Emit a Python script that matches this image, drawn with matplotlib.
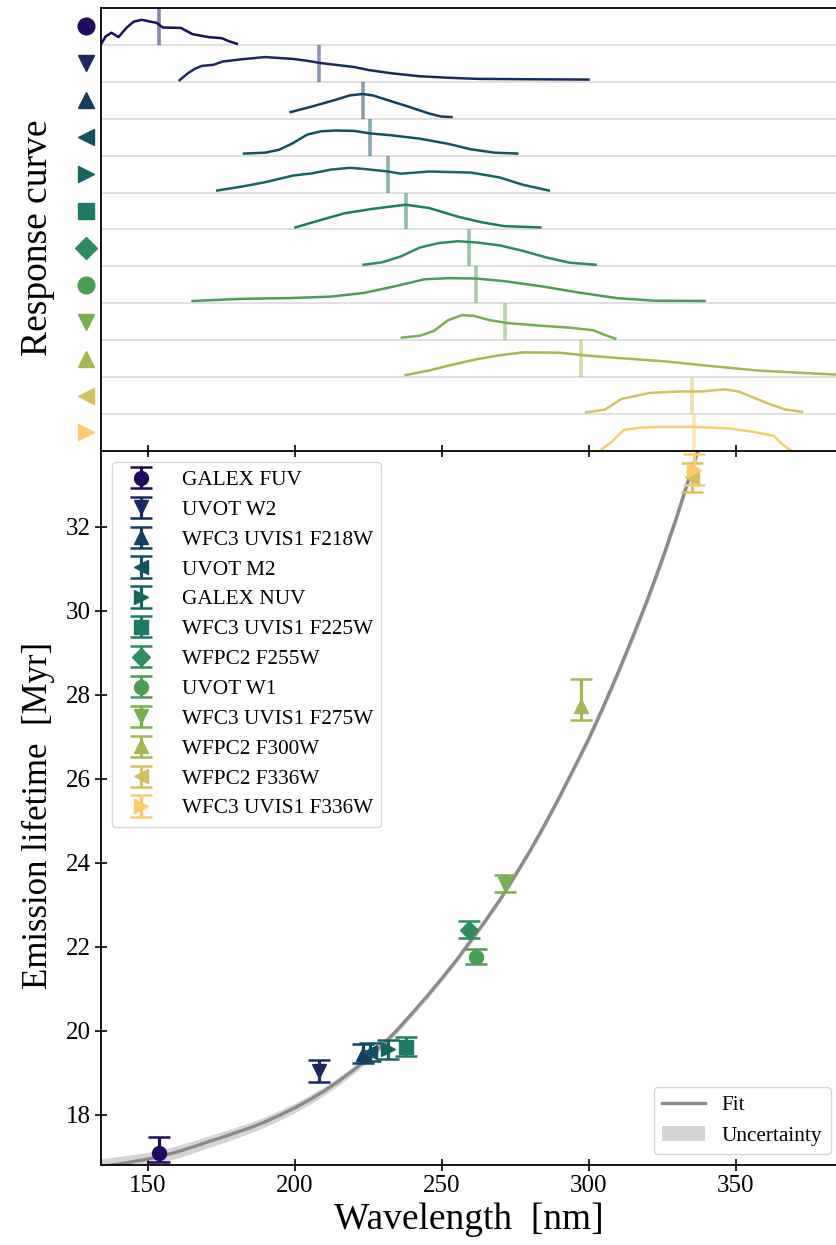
import matplotlib
matplotlib.use('Agg')
import matplotlib.pyplot as plt
from matplotlib.patches import Patch
from matplotlib.lines import Line2D

plt.rcParams['font.family'] = 'serif'
plt.rcParams['font.serif'] = ['Liberation Serif', 'DejaVu Serif']
plt.rcParams['mathtext.fontset'] = 'stix'

# filters, markers, colours
filters = ['GALEX FUV', 'UVOT W2', 'WFC3 UVIS1 F218W', 'UVOT M2', 'GALEX NUV',
           'WFC3 UVIS1 F225W', 'WFPC2 F255W', 'UVOT W1', 'WFC3 UVIS1 F275W',
           'WFPC2 F300W', 'WFPC2 F336W', 'WFC3 UVIS1 F336W']
markers = ['o', 'v', '^', '<', '>', 's', 'D', 'o', 'v', '^', '<', '>']
colors = ['#1f0a5c', '#1b2a5e', '#143e5f', '#14505f', '#166460', '#1e7a64',
          '#2f8a5e', '#4b9c55', '#78ae4e', '#a5b652', '#d4c060', '#fdcb6e']

# effective wavelength [nm] and emission lifetime [Myr]
wl_eff = [153.8, 208.3, 223.3, 225.6, 231.6, 237.9, 259.2, 261.7, 271.6, 297.3, 335.0, 335.9]
lifetime = [17.09, 19.03, 19.44, 19.48, 19.55, 19.62, 22.40, 21.76, 23.50, 27.73, 33.17, 33.35]
err_lo = [0.23, 0.25, 0.22, 0.20, 0.22, 0.22, 0.20, 0.18, 0.21, 0.34, 0.35, 0.37]
err_hi = [0.37, 0.28, 0.24, 0.22, 0.22, 0.22, 0.20, 0.18, 0.21, 0.63, 0.35, 0.37]

# response curves (wavelength [nm], height in row units)
wl_fuv = [134.1, 135.6, 137.6, 140.0, 142.8, 145.2, 147.9, 150.8, 152.9, 155.1, 161.2, 165.2, 170.7, 175.2, 177.9, 180.3]
r_fuv = [0.02, 0.225, 0.33, 0.21, 0.47, 0.63, 0.68, 0.63, 0.60, 0.47, 0.46, 0.29, 0.21, 0.18, 0.09, 0.03]
wl_w2 = [160.8, 163.6, 165.9, 168.3, 172.3, 175.5, 181.9, 189.9, 199.4, 204.2, 208.5, 213.8, 220.2, 225.0, 232.9, 242.5, 252.1, 261.7, 277.6, 299.9]
r_w2 = [0.045, 0.23, 0.35, 0.43, 0.46, 0.55, 0.61, 0.67, 0.62, 0.57, 0.51, 0.46, 0.40, 0.32, 0.23, 0.15, 0.11, 0.08, 0.07, 0.06]
wl_f218 = [198.6, 205.8, 213.8, 218.6, 223.0, 226.6, 232.9, 239.3, 245.7, 249.7, 253.3]
r_f218 = [0.18, 0.33, 0.51, 0.63, 0.67, 0.63, 0.47, 0.31, 0.14, 0.06, 0.045]
wl_m2 = [182.7, 189.9, 194.7, 199.4, 204.2, 209.0, 213.8, 220.2, 225.8, 232.9, 242.5, 252.1, 260.0, 268.0, 275.7]
r_m2 = [0.055, 0.08, 0.16, 0.34, 0.57, 0.66, 0.68, 0.67, 0.60, 0.55, 0.46, 0.32, 0.17, 0.08, 0.055]
wl_nuv = [173.6, 181.9, 189.9, 199.4, 205.8, 212.2, 218.6, 223.4, 231.7, 236.1, 245.7, 260.0, 269.6, 277.6, 286.4]
r_nuv = [0.055, 0.16, 0.28, 0.46, 0.52, 0.62, 0.67, 0.64, 0.57, 0.51, 0.57, 0.54, 0.41, 0.21, 0.055]
wl_f225 = [200.2, 209.0, 217.0, 226.6, 237.7, 245.7, 255.3, 263.2, 271.2, 283.5]
r_f225 = [0.055, 0.26, 0.44, 0.56, 0.67, 0.58, 0.35, 0.20, 0.09, 0.055]
wl_f255 = [223.4, 229.7, 236.1, 242.5, 248.9, 255.3, 261.6, 269.6, 277.6, 285.6, 293.5, 302.3]
r_f255 = [0.045, 0.11, 0.27, 0.51, 0.63, 0.68, 0.65, 0.57, 0.42, 0.24, 0.10, 0.045]
wl_w1 = [165.2, 181.9, 197.8, 212.2, 223.4, 232.9, 244.1, 252.1, 261.6, 271.2, 283.9, 296.7, 309.5, 322.2, 339.5]
r_w1 = [0.063, 0.12, 0.14, 0.18, 0.28, 0.44, 0.65, 0.68, 0.67, 0.60, 0.46, 0.29, 0.14, 0.07, 0.063]
wl_f275 = [236.4, 242.5, 247.3, 252.1, 256.9, 260.8, 266.4, 272.8, 284.0, 293.5, 301.5, 305.5, 309.0]
r_f275 = [0.07, 0.12, 0.25, 0.54, 0.68, 0.66, 0.54, 0.46, 0.39, 0.34, 0.27, 0.14, 0.045]
wl_f300 = [237.7, 245.7, 253.7, 261.6, 269.6, 277.6, 290.3, 298.3, 309.5, 325.4, 341.4, 357.3, 373.3, 384.1]
r_f300 = [0.055, 0.18, 0.34, 0.48, 0.59, 0.67, 0.66, 0.59, 0.52, 0.43, 0.30, 0.18, 0.11, 0.07]
wl_f336a = [299.1, 305.5, 311.1, 320.7, 330.2, 338.2, 346.2, 351.0, 360.5, 366.9, 372.5]
r_f336a = [0.045, 0.12, 0.41, 0.57, 0.61, 0.61, 0.67, 0.61, 0.30, 0.12, 0.06]
wl_f336b = [304.4, 307.9, 311.9, 317.5, 325.4, 335.8, 347.8, 355.7, 362.9, 366.1, 368.5]
r_f336b = [0.045, 0.25, 0.57, 0.63, 0.65, 0.65, 0.61, 0.52, 0.41, 0.16, 0.03]

resp_wl = [wl_fuv, wl_w2, wl_f218, wl_m2, wl_nuv, wl_f225, wl_f255, wl_w1, wl_f275, wl_f300, wl_f336a, wl_f336b]
resp = [r_fuv, r_w2, r_f218, r_m2, r_nuv, r_f225, r_f255, r_w1, r_f275, r_f300, r_f336a, r_f336b]

# fit curve and its uncertainty
fit_wl = [134, 135, 140, 145, 150, 155, 160, 165, 170, 175, 180, 185, 190, 195, 200, 205, 210, 215, 220,
          225, 230, 235, 240, 245, 250, 255, 260, 265, 270, 275, 280, 285, 290, 295, 300, 305, 310,
          315, 320, 325, 330, 335, 340]
fit_y = [16.76, 16.77, 16.82, 16.88, 16.94, 17.02, 17.11, 17.22, 17.34, 17.45, 17.57, 17.69, 17.83, 17.99,
         18.16, 18.35, 18.56, 18.80, 19.06, 19.35, 19.67, 20.03, 20.42, 20.82, 21.24, 21.68, 22.15, 22.63,
         23.14, 23.70, 24.28, 24.90, 25.56, 26.25, 26.95, 27.72, 28.53, 29.38, 30.27, 31.22, 32.25, 33.35, 34.45]
fit_err = [0.19, 0.19, 0.18, 0.17, 0.16, 0.155, 0.15, 0.145, 0.14, 0.135, 0.13, 0.125, 0.12, 0.12,
           0.115, 0.11, 0.105, 0.10, 0.09, 0.085, 0.08, 0.075, 0.07, 0.07, 0.065, 0.065, 0.065, 0.065,
           0.07, 0.07, 0.075, 0.08, 0.085, 0.09, 0.095, 0.10, 0.105, 0.11, 0.115, 0.12, 0.125, 0.13, 0.135]

fig = plt.figure(figsize=(8.36, 12.45), dpi=100)
ax_top = fig.add_axes([0.1208, 0.6378, 0.8792, 0.3558])
ax = fig.add_axes([0.1208, 0.0643, 0.8792, 0.5735])

xmin, xmax = 134.05, 384.1
n = len(filters)

# response curves
for i in range(n):
    base = n - 1 - i
    if i > 0:
        ax_top.axhline(base + 1, color='#dddddd', lw=1.3, zorder=1)
    ax_top.plot(resp_wl[i], [base + v for v in resp[i]], color=colors[i], lw=1.8, zorder=3)
    ax_top.vlines(wl_eff[i], base, base + 1, color=colors[i], alpha=0.5, lw=2.6, zorder=2)
    ax_top.plot(-0.02, base + 0.5, marker=markers[i], color=colors[i], ms=12 if markers[i] != 'D' else 11,
                transform=ax_top.get_yaxis_transform(), clip_on=False)
ax_top.set_xlim(xmin, xmax)
ax_top.set_ylim(0, n)
ax_top.set_xticks([])
ax_top.set_yticks([])
ax_top.spines['right'].set_visible(False)
ax_top.spines['bottom'].set_visible(False)
ax_top.spines['left'].set_linewidth(1.3)
ax_top.spines['top'].set_linewidth(1.3)
ax_top.set_ylabel('Response curve', fontsize=27)
ax_top.yaxis.set_label_coords(-0.063, 0.482)

# fit
ax.fill_between(fit_wl, [y - e for y, e in zip(fit_y, fit_err)], [y + e for y, e in zip(fit_y, fit_err)],
                color='#d8d3d3', lw=0, zorder=1)
ax.plot(fit_wl, fit_y, color='#8a8a8a', lw=2.4, zorder=2)

# measurements
handles = []
for i in range(n):
    h = ax.errorbar(wl_eff[i], lifetime[i], yerr=[[err_lo[i]], [err_hi[i]]], fmt=markers[i],
                    color=colors[i], ms=10 if markers[i] != 'D' else 9, elinewidth=2.3,
                    capsize=8, capthick=1.8, label=filters[i], zorder=3)
    handles.append(h)

ax.set_xlim(xmin, xmax)
ax.set_ylim(16.8, 33.8)
ax.set_xticks([150, 200, 250, 300, 350])
ax.set_yticks([18, 20, 22, 24, 26, 28, 30, 32])
ax.tick_params(direction='inout', length=8, width=1.2, labelsize=18, top=True)
ax.spines['right'].set_visible(False)
for s in ['left', 'top', 'bottom']:
    ax.spines[s].set_linewidth(1.3)
ax.set_xlabel('Wavelength  [nm]', fontsize=27)
ax.set_ylabel('Emission lifetime  [Myr]', fontsize=25)
ax.yaxis.set_label_coords(-0.063, 0.49)

leg1 = ax.legend(handles=handles, loc='upper left', fontsize=15.3, labelspacing=0.47, handletextpad=0.9)
ax.add_artist(leg1)
fit_handles = [Line2D([0], [0], color='#8a8a8a', lw=2.4),
               Patch(facecolor='#d8d3d3', edgecolor='none')]
ax.legend(fit_handles, ['Fit', 'Uncertainty'], loc='lower right', fontsize=15.3,
          bbox_to_anchor=(1.007, 0.0))

fig.savefig('out.png', dpi=100)
